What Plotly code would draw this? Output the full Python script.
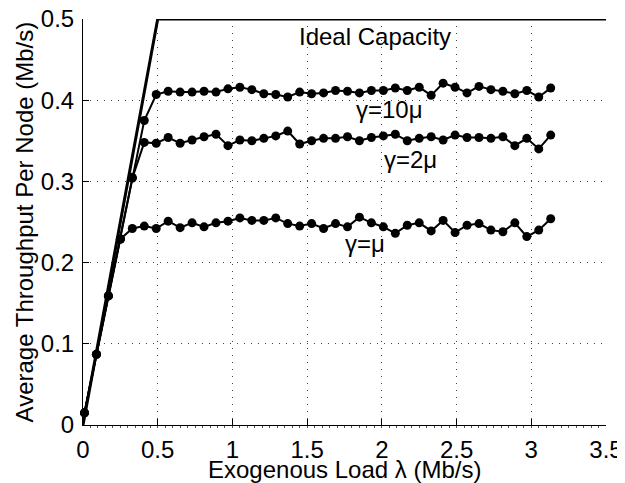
import plotly.graph_objects as go

# Data
load = [0.01, 0.09, 0.17, 0.25, 0.33, 0.41, 0.49, 0.57, 0.65, 0.73,
        0.81, 0.89, 0.97, 1.05, 1.13, 1.21, 1.29, 1.37, 1.45, 1.53,
        1.61, 1.69, 1.77, 1.85, 1.93, 2.01, 2.09, 2.17, 2.25, 2.33,
        2.41, 2.49, 2.57, 2.65, 2.73, 2.81, 2.89, 2.97, 3.05, 3.13]

gamma_mu = [0.015, 0.087, 0.159, 0.229, 0.242, 0.245, 0.242, 0.251, 0.243, 0.249,
            0.244, 0.249, 0.251, 0.255, 0.252, 0.252, 0.255, 0.248, 0.245, 0.248,
            0.242, 0.248, 0.244, 0.256, 0.249, 0.244, 0.236, 0.246, 0.249, 0.239,
            0.252, 0.237, 0.246, 0.248, 0.240, 0.238, 0.249, 0.232, 0.240, 0.254]

gamma_2mu = [0.015, 0.087, 0.159, 0.229, 0.304, 0.348, 0.347, 0.354, 0.347, 0.351,
             0.355, 0.358, 0.344, 0.351, 0.350, 0.353, 0.356, 0.362, 0.346, 0.350,
             0.353, 0.353, 0.355, 0.350, 0.354, 0.356, 0.358, 0.350, 0.353, 0.355,
             0.351, 0.357, 0.354, 0.354, 0.353, 0.355, 0.344, 0.353, 0.340, 0.357]

gamma_10mu = [0.015, 0.087, 0.159, 0.229, 0.305, 0.375, 0.407, 0.411, 0.410, 0.410,
              0.411, 0.410, 0.414, 0.416, 0.413, 0.408, 0.407, 0.404, 0.410, 0.408,
              0.409, 0.412, 0.411, 0.409, 0.412, 0.412, 0.415, 0.412, 0.416, 0.406,
              0.421, 0.416, 0.409, 0.417, 0.413, 0.411, 0.408, 0.412, 0.404, 0.415]

ideal_x = [0, 0.5, 3.5]
ideal_y = [0, 0.5, 0.5]

labels = ["Ideal Capacity", "γ=10μ", "γ=2μ", "γ=μ"]
label_x = [1.956, 2.05, 2.19, 1.89]
label_y = [0.479, 0.388, 0.327, 0.223]

x_title = "Exogenous Load λ (Mb/s)"
y_title = "Average Throughput Per Node (Mb/s)"

FONT = "Liberation Sans, Arial, Helvetica, sans-serif"

fig = go.Figure()
for ys in (gamma_mu, gamma_2mu, gamma_10mu):
    fig.add_trace(go.Scatter(
        x=load, y=ys, mode="lines+markers",
        line=dict(color="black", width=2),
        marker=dict(color="black", size=9, symbol="circle"),
        cliponaxis=False, showlegend=False))

fig.add_trace(go.Scatter(
    x=ideal_x, y=ideal_y, mode="lines",
    line=dict(color="black", width=3),
    cliponaxis=False, showlegend=False))

for t, lx, ly in zip(labels, label_x, label_y):
    fig.add_annotation(x=lx, y=ly, xref="x", yref="y", text=t, showarrow=False,
                       font=dict(family=FONT, size=24, color="black"),
                       xanchor="center", yanchor="middle")

# axis titles placed as annotations for exact positioning
fig.add_annotation(x=0.5, y=-0.109, xref="paper", yref="paper", text=x_title,
                   showarrow=False, font=dict(family=FONT, size=24, color="black"),
                   xanchor="center", yanchor="middle")
fig.add_annotation(x=-0.112, y=0.5, xref="paper", yref="paper", text=y_title,
                   showarrow=False, textangle=-90,
                   font=dict(family=FONT, size=24, color="black"),
                   xanchor="center", yanchor="middle")

# page body has an 8px default margin, so the figure is 8px smaller
fig.update_layout(
    width=617, height=475,
    margin=dict(l=75, r=19, t=11, b=58),
    paper_bgcolor="white", plot_bgcolor="white",
    font=dict(family=FONT, size=24, color="black"),
    showlegend=False,
)
fig.update_xaxes(
    range=[0, 3.5], dtick=0.5, tick0=0,
    showline=True, linecolor="black", linewidth=1, mirror=False,
    ticks="inside", ticklen=6, tickcolor="black",
    minor=dict(dtick=0.05, ticks="outside", ticklen=2, tickcolor="#555", showgrid=False),
    showgrid=True, gridcolor="#444", gridwidth=1, griddash="1px,6px",
    zeroline=False, automargin=False,
    tickfont=dict(size=24),
    ticklabelstandoff=3, ticklabeloverflow="allow",
)
fig.update_yaxes(
    range=[0, 0.5], dtick=0.1, tick0=0,
    showline=True, linecolor="black", linewidth=1, mirror=False,
    ticks="inside", ticklen=6, tickcolor="black",
    showgrid=True, gridcolor="#444", gridwidth=1, griddash="1px,6px",
    zeroline=False, automargin=False,
    tickfont=dict(size=24),
    ticklabelstandoff=3, ticklabeloverflow="allow",
)

fig.write_html("out.html")
